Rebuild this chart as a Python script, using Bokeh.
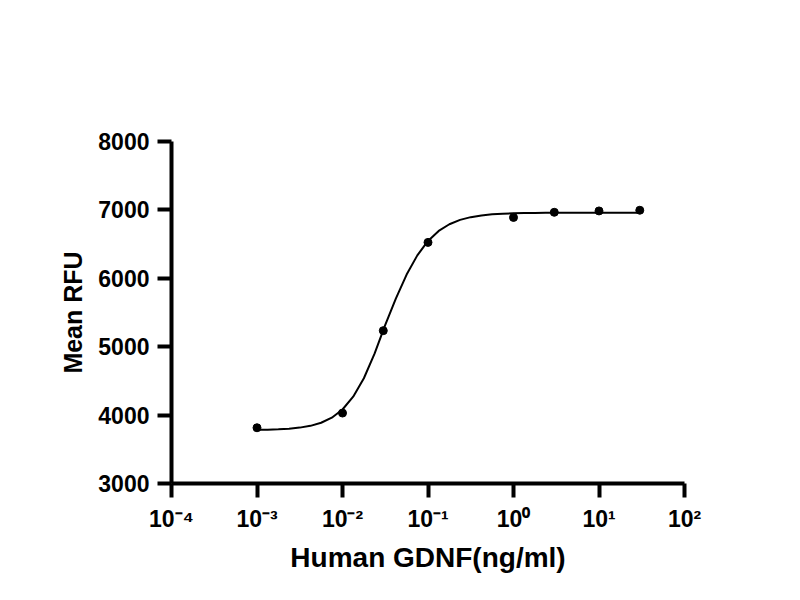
from bokeh.embed import file_html
from bokeh.models import FixedTicker
from bokeh.plotting import figure
from bokeh.resources import INLINE

# measured points
conc = [0.001, 0.01, 0.03, 0.1, 1, 3, 10, 30]
mean_rfu = [3815, 4030, 5235, 6525, 6890, 6965, 6985, 6995]

# fitted curve (log10 of concentration, RFU)
curve_exp = [-3.0, -2.875, -2.75, -2.625, -2.5, -2.375, -2.25, -2.125, -2.0,
             -1.875, -1.75, -1.625, -1.5, -1.375, -1.25, -1.125, -1.0,
             -0.875, -0.75, -0.625, -0.5, -0.375, -0.25, -0.125, 0.0,
             0.125, 0.25, 0.375, 0.5, 0.625, 0.75, 0.875, 1.0,
             1.125, 1.25, 1.375, 1.477]
curve_rfu = [3784, 3787, 3793, 3802, 3817, 3843, 3888, 3962, 4082,
             4269, 4539, 4898, 5318, 5707, 6054, 6335, 6546,
             6693, 6790, 6854, 6894, 6919, 6935, 6945, 6950,
             6954, 6956, 6958, 6959, 6959, 6960, 6960, 6960,
             6960, 6960, 6960, 6960]

x_tick_exp = [-4, -3, -2, -1, 0, 1, 2]
y_ticks = [3000, 4000, 5000, 6000, 7000, 8000]

FONT = "Liberation Sans"
SUP = str.maketrans("-0123456789", "⁻⁰¹²³⁴⁵⁶⁷⁸⁹")

p = figure(width=784, height=584, x_axis_type="log",
           x_range=(1e-4, 1e2), y_range=(3000, 8000),
           output_backend="svg", toolbar_location=None,
           min_border_left=171, min_border_right=100,
           min_border_top=141, min_border_bottom=101)
p.outline_line_color = None
p.grid.visible = False

x_ticks = [10.0 ** e for e in x_tick_exp]
p.xaxis.ticker = FixedTicker(ticks=x_ticks, minor_ticks=[])
p.xaxis.major_label_overrides = {t: "10" + str(e).translate(SUP)
                                 for e, t in zip(x_tick_exp, x_ticks)}
p.yaxis.ticker = FixedTicker(ticks=y_ticks, minor_ticks=[])

for ax in (p.xaxis[0], p.yaxis[0]):
    ax.axis_line_width = 4
    ax.major_tick_line_width = 4
    ax.major_tick_out = 14
    ax.major_tick_in = 0
    ax.minor_tick_out = 0
    ax.minor_tick_in = 0
    ax.axis_line_color = "black"
    ax.major_tick_line_color = "black"
    ax.major_label_text_font = FONT
    ax.major_label_text_font_style = "bold"
    ax.major_label_text_color = "black"
    ax.axis_label_text_font = FONT
    ax.axis_label_text_font_style = "bold"
    ax.axis_label_text_color = "black"

p.yaxis.major_label_text_font_size = "23px"
p.yaxis.major_label_standoff = 8
p.yaxis.axis_label = "Mean RFU"
p.yaxis.axis_label_text_font_size = "25px"
p.yaxis.axis_label_standoff = 8

p.xaxis.major_label_text_font_size = "23px"
p.xaxis.major_label_standoff = 8
p.xaxis.axis_label = "Human GDNF(ng/ml)"
p.xaxis.axis_label_text_font_size = "28px"
p.xaxis.axis_label_standoff = 7

p.line([10 ** e for e in curve_exp], curve_rfu, line_width=2, color="black")
p.scatter(conc, mean_rfu, size=8, color="black")

open("out.html", "w").write(file_html(p, INLINE))
